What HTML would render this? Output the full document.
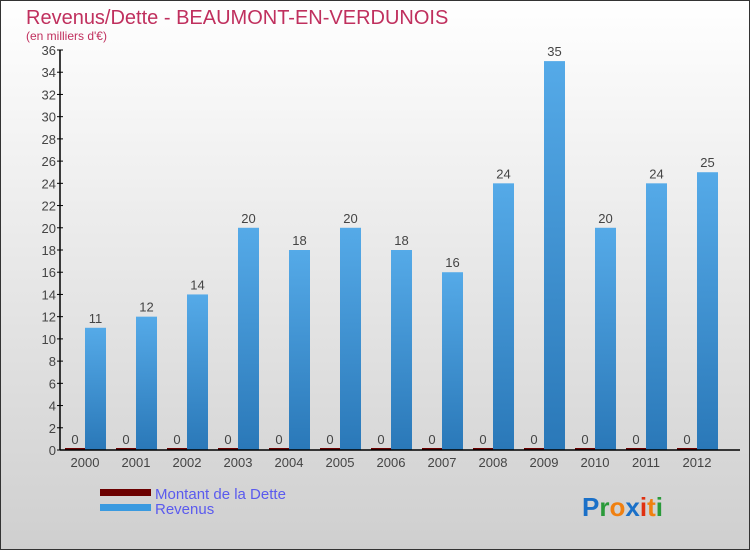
<!DOCTYPE html>
<html><head><meta charset="utf-8"><style>
body{margin:0;width:750px;height:550px;overflow:hidden}
svg{display:block}
text{font-family:"Liberation Sans",sans-serif}
</style></head><body>
<svg width="750" height="550">
<defs>
<linearGradient id="bg" x1="0" y1="0" x2="0" y2="1"><stop offset="0" stop-color="#ffffff"/><stop offset="1" stop-color="#cfcfcf"/></linearGradient>
<linearGradient id="bar" x1="0" y1="0" x2="0" y2="1"><stop offset="0" stop-color="#55aae8"/><stop offset="1" stop-color="#2a78b8"/></linearGradient>
</defs>
<rect x="0.5" y="0.5" width="749" height="549" fill="url(#bg)" stroke="#333"/>
<text x="26" y="24" font-size="20" fill="#c0305e">Revenus/Dette - BEAUMONT-EN-VERDUNOIS</text>
<text x="26" y="40" font-size="12" fill="#c0305e">(en milliers d'€)</text>
<g id="plot"></g>
<rect x="100" y="489" width="51" height="7" fill="#6b0000"/>
<text x="155" y="499" font-size="15" fill="#5a5aee">Montant de la Dette</text>
<rect x="100" y="504" width="51" height="7" fill="#3a9ae0"/>
<text x="155" y="514" font-size="15" fill="#5a5aee">Revenus</text>
<text x="582" y="516" font-size="26" font-weight="bold"><tspan fill="#1a70c8">P</tspan><tspan fill="#2a9a3a">r</tspan><tspan fill="#f08010">o</tspan><tspan fill="#1a70c8">x</tspan><tspan fill="#e03010">i</tspan><tspan fill="#f08010">t</tspan><tspan fill="#2a9a3a">i</tspan></text>
</svg>
<script>
const years=["2000","2001","2002","2003","2004","2005","2006","2007","2008","2009","2010","2011","2012"];
const debt=[0,0,0,0,0,0,0,0,0,0,0,0,0];
const revenus=[11,12,14,20,18,20,18,16,24,35,20,24,25];
const yTicks=[0,2,4,6,8,10,12,14,16,18,20,22,24,26,28,30,32,34,36];
const NS="http://www.w3.org/2000/svg";
const g=document.getElementById('plot');
const y=v=>450-v*400/36;
const xc=i=>85+i*51;
function el(t,a,txt){const e=document.createElementNS(NS,t);for(const k in a)e.setAttribute(k,a[k]);if(txt!==undefined)e.textContent=txt;g.appendChild(e);return e;}
yTicks.forEach(v=>{
 const l=el('line',{x1:57,x2:63,y1:y(v),y2:y(v),stroke:'#000'});
 
 
 const t=el('text',{x:56,y:y(v)+5,'font-size':13,'text-anchor':'end',fill:'#444'},v);
 
 
});
years.forEach((yr,i)=>{
 const c=xc(i);
 const d=el('rect',{x:c-20,y:y(debt[i])-2,width:20,height:y(0)-y(debt[i])+2,fill:'#6b0000'});
 
 
 const r=el('rect',{x:c,y:y(revenus[i]),width:21,height:y(0)-y(revenus[i]),fill:'url(#bar)'});
 
 
 const dl=el('text',{x:c-10,y:y(debt[i])-6,'font-size':13,'text-anchor':'middle',fill:'#444'},debt[i]);
 
 
 const rl=el('text',{x:c+10.5,y:y(revenus[i])-5,'font-size':13,'text-anchor':'middle',fill:'#444'},revenus[i]);
 
 
 const xl=el('text',{x:c,y:467,'font-size':13,'text-anchor':'middle',fill:'#444'},yr);
 
 
});
const ya=el('line',{x1:60,x2:60,y1:y(36),y2:450,stroke:'#000','stroke-width':1.5});


const xa=el('line',{x1:60,x2:740,y1:450,y2:450,stroke:'#000','stroke-width':1.5});


</script>
</body></html>
